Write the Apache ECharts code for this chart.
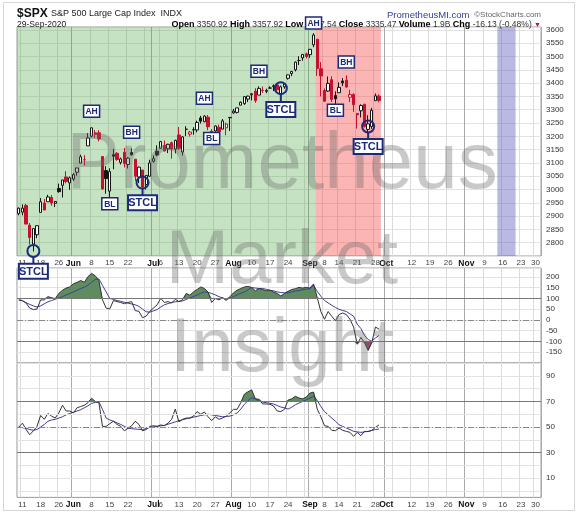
<!DOCTYPE html>
<html>
<head>
<meta charset="utf-8">
<title>$SPX</title>
<script src="https://cdn.jsdelivr.net/npm/echarts@6/dist/echarts.min.js"></script>
<style>
  html, body { margin: 0; padding: 0; background: #fff; }
  #chart { width: 578px; height: 515px; }
</style>
</head>
<body>
<div id="chart"></div>
<script>
;(function () {

    'use strict';

    // trading days, then the empty future part of the axis
    var dates = [
        '05-08','05-11','05-12','05-13','05-14','05-15','05-18','05-19','05-20','05-21','05-22','05-26','05-27','05-28','05-29',
        '06-01','06-02','06-03','06-04','06-05','06-08','06-09','06-10','06-11','06-12','06-15','06-16','06-17','06-18','06-19',
        '06-22','06-23','06-24','06-25','06-26','06-29','06-30',
        '07-01','07-02','07-06','07-07','07-08','07-09','07-10','07-13','07-14','07-15','07-16','07-17','07-20','07-21','07-22',
        '07-23','07-24','07-27','07-28','07-29','07-30','07-31',
        '08-03','08-04','08-05','08-06','08-07','08-10','08-11','08-12','08-13','08-14','08-17','08-18','08-19','08-20','08-21',
        '08-24','08-25','08-26','08-27','08-28','08-31',
        '09-01','09-02','09-03','09-04','09-08','09-09','09-10','09-11','09-14','09-15','09-16','09-17','09-18','09-21','09-22',
        '09-23','09-24','09-25','09-28','09-29',
        '09-30','10-01','10-02','10-05','10-06','10-07','10-08','10-09','10-12','10-13','10-14','10-15','10-16','10-19','10-20',
        '10-21','10-22','10-23','10-26','10-27','10-28','10-29','10-30',
        '11-02','11-03','11-04','11-05','11-06','11-09','11-10','11-11','11-12','11-13','11-16','11-17','11-18','11-19','11-20',
        '11-23','11-24','11-25','11-27','11-30','12-01'
    ];

    // [open, close, low, high]
    var ohlc = [
        [2909,2930,2903,2932],[2915,2930,2903,2944],[2940,2870,2870,2946],[2866,2820,2793,2874],[2795,2853,2767,2853],
        [2830,2864,2817,2865],[2914,2954,2914,2968],[2949,2923,2922,2964],[2954,2972,2954,2980],[2970,2949,2939,2979],
        [2948,2955,2934,2957],[3004,2992,2988,3022],[3016,3036,2970,3036],[3047,3030,3023,3069],[3025,3044,2999,3049],
        [3039,3056,3032,3062],[3065,3081,3052,3081],[3099,3123,3099,3131],[3112,3112,3090,3129],[3164,3194,3164,3212],
        [3200,3232,3196,3233],[3213,3207,3193,3223],[3213,3190,3181,3223],[3124,3002,2999,3124],[3071,3041,2984,3088],
        [2994,3067,2966,3080],[3131,3125,3076,3153],[3136,3113,3108,3141],[3102,3115,3094,3120],[3140,3098,3083,3156],
        [3094,3118,3079,3121],[3139,3131,3127,3155],[3114,3050,3032,3115],[3047,3084,3024,3086],[3073,3009,3005,3074],
        [3019,3053,3000,3054],[3050,3100,3048,3112],[3106,3116,3101,3128],[3144,3130,3125,3166],[3155,3180,3155,3183],
        [3166,3145,3143,3184],[3153,3170,3137,3172],[3176,3152,3116,3180],[3152,3185,3136,3187],[3205,3155,3149,3235],
        [3141,3198,3128,3201],[3226,3227,3201,3238],[3208,3216,3199,3220],[3224,3225,3206,3234],[3224,3252,3215,3259],
        [3269,3257,3248,3277],[3255,3276,3253,3279],[3272,3236,3223,3280],[3219,3216,3200,3227],[3220,3239,3214,3241],
        [3234,3218,3216,3244],[3227,3258,3227,3265],[3232,3246,3204,3251],[3270,3271,3220,3272],[3288,3295,3285,3303],
        [3290,3307,3286,3307],[3317,3328,3317,3331],[3323,3349,3318,3351],[3340,3351,3329,3353],[3356,3360,3335,3363],
        [3370,3334,3326,3381],[3355,3380,3355,3388],[3373,3373,3363,3387],[3369,3373,3362,3379],[3381,3382,3379,3388],
        [3387,3390,3370,3395],[3393,3375,3370,3400],[3360,3386,3355,3391],[3386,3397,3379,3400],[3418,3431,3413,3432],
        [3436,3444,3426,3444],[3450,3479,3444,3481],[3485,3485,3468,3501],[3495,3508,3484,3509],[3510,3500,3493,3515],
        [3507,3527,3495,3528],[3544,3581,3535,3588],[3565,3455,3427,3565],[3454,3427,3350,3479],[3372,3332,3329,3380],
        [3370,3399,3367,3425],[3413,3339,3329,3426],[3353,3341,3310,3369],[3364,3384,3364,3403],[3408,3401,3389,3419],
        [3411,3385,3384,3429],[3347,3357,3329,3375],[3357,3319,3292,3362],[3286,3281,3229,3286],[3296,3316,3271,3320],
        [3320,3237,3233,3323],[3226,3247,3209,3279],[3237,3298,3228,3307],[3334,3352,3333,3361],[3351,3335,3328,3358]
    ];

    var cci = [
        93,90,78,55,48,51,93,93,108,103,99,123,138,148,153,168,174,183,175,201,
        216,205,183,93,55,51,90,85,81,75,81,85,43,40,10,18,40,55,70,100,
        81,85,78,96,85,93,123,115,130,141,153,146,130,81,100,93,103,90,108,126,
        138,146,153,156,150,135,146,141,135,138,130,123,111,123,133,141,145,151,148,151,
        148,167,104,39,3,39,17,-4,25,32,25,3,-33,-113,-81,-106,-142,-106,-33,-43
    ];
    var cciSignal = [
        93,88,80,72,65,60,65,75,84,90,96,102,108,116,123,130,138,146,152,162,
        175,188,190,160,130,100,95,90,86,82,78,74,70,63,50,38,36,42,48,60,
        70,76,81,84,86,88,95,102,108,116,124,130,128,123,116,108,102,96,100,108,
        116,124,130,140,150,148,146,146,142,138,135,130,127,126,126,130,134,136,140,143,
        145,160,133,110,90,79,68,58,49,44,39,28,17,-20,-40,-72,-91,-99,-84,-72
    ];
    var rsi = [
        50,53,48,44,47,50.5,59,56,60.6,58.5,57,61,67,62.5,62.5,61,65,66,67,69,
        72.5,70,69,50.5,50.5,52.6,54.5,52,50.5,47,49,51,54.5,52,47,48,50.5,51,50.5,51.6,
        51,53,56,64,54,56,57,57,58.5,62,60,61.7,58,55,58,56,57,58.5,61,63.8,
        63.8,69,75.7,77.6,79,72,71.7,68,68,67.8,66.4,62.5,62,63.8,71,72,74,72.6,72,73.4,
        76.5,77.3,64,58,51,50.5,47.4,47.1,49.2,47.4,46.6,45.8,42.7,45.8,43.2,46.6,46.4,47.4,49.7,51.6
    ];
    var rsiSignal = [
        50,49.5,49,48,47.5,48,50,52,54.5,55.5,56,57,58,59.5,60.6,61.5,62.5,63.5,65,66.5,
        68.5,69.2,69.6,63.8,57,55.5,54.5,53.2,52,50.5,49,48.7,48.4,48.2,48,48.8,49.7,50.1,50.5,50.9,
        51.3,52.2,53,54,55,55.7,56.4,57,57.7,58.3,59,59.5,60,59.5,59,58.5,58,58.2,58.5,59.5,
        61,64,67.8,70.5,73,72,70,69.5,69,68.5,68,66.8,65.6,65,64,65.5,67.4,68.7,70,71.3,
        72.6,74,70.8,66,62,59.5,57,54.5,51.8,50.5,49.2,48,46.6,46.2,45.8,46.2,46.6,47.3,48,48.4
    ];

    var tickLabels = [
        ['05-11','11'],['05-18','18'],['05-26','26'],['06-01','Jun'],['06-08','8'],['06-15','15'],['06-22','22'],
        ['07-01','Jul'],['07-06','6'],['07-13','13'],['07-20','20'],['07-27','27'],['08-03','Aug'],['08-10','10'],
        ['08-17','17'],['08-24','24'],['09-01','Sep'],['09-08','8'],['09-14','14'],['09-21','21'],['09-28','28'],
        ['10-01','Oct'],['10-12','12'],['10-19','19'],['10-26','26'],['11-02','Nov'],['11-09','9'],['11-16','16'],
        ['11-23','23'],['11-30','30']
    ];
    var weekStarts = ['05-11','05-18','05-26','06-01','06-08','06-15','06-22','06-29','07-06','07-13','07-20','07-27',
        '08-03','08-10','08-17','08-24','08-31','09-08','09-14','09-21','09-28','10-05','10-12','10-19','10-26',
        '11-02','11-09','11-16','11-23','11-30'];
    var monthStarts = ['06-01','07-01','08-03','09-01','10-01','11-02'];
    var monthNames = ['Jun','Jul','Aug','Sep','Oct','Nov'];

    var zones = [
        { from: '05-08', to: '09-02', color: 'rgba(80,170,70,0.33)' },
        { from: '09-03', to: '09-29', color: 'rgba(245,60,60,0.38)' },
        { from: '11-13', to: '11-19', color: 'rgba(80,80,180,0.40)' }
    ];

    // ring = circle price, box = label price
    var notes = [
        { text: 'STCL', date: '05-14', ring: 2769, box: 2693 },
        { text: 'AH', date: '06-08', box: 3294 },
        { text: 'BL', date: '06-15', box: 2946 },
        { text: 'BH', date: '06-23', box: 3215 },
        { text: 'STCL', date: '06-26', ring: 3026, box: 2950 },
        { text: 'AH', date: '07-22', box: 3343 },
        { text: 'BL', date: '07-24', box: 3192 },
        { text: 'BH', date: '08-12', box: 3445 },
        { text: 'STCL', date: '08-20', ring: 3381, box: 3301 },
        { text: 'AH', date: '09-02', box: 3626 },
        { text: 'BH', date: '09-16', box: 3479 },
        { text: 'BL', date: '09-11', box: 3298 },
        { text: 'STCL', date: '09-24', ring: 3237, box: 3162 }
    ];

    var cciLabels = [-150, -100, -50, 0, 50, 100, 150, 200];
    var rsiLabels = [10, 30, 50, 70, 90];
    var rsiGridLevels = [0, 10, 20, 30, 40, 50, 60, 70, 80, 90, 100];

    var quote = { open: '3350.92', high: '3357.92', low: '3327.54', close: '3335.47', volume: '1.9B', chg: '-16.13 (-0.48%)' };

    var FONT = '"Liberation Sans", Arial, sans-serif';
    var NAVY = '#1b2a7b';

    var labelMap = {};
    tickLabels.forEach(function (t) { labelMap[t[0]] = t[1]; });

    var xAxes = function (grid, showLabels) {
        return [{
            type: 'category', gridIndex: grid, data: dates, boundaryGap: true,
            axisLine: { show: false }, axisTick: { show: false },
            axisLabel: {
                show: showLabels, margin: 3, fontSize: 8, color: '#444', fontFamily: FONT,
                interval: function (i, v) { return labelMap[v] != null; },
                formatter: function (v) {
                    var t = labelMap[v];
                    return monthNames.indexOf(t) >= 0 ? '{m|' + t + '}' : t;
                },
                rich: { m: { fontWeight: 'bold', fontSize: 8.5, color: '#111', fontFamily: FONT } }
            },
            splitLine: {
                show: true,
                interval: function (i, v) { return weekStarts.indexOf(v) >= 0; },
                lineStyle: { color: '#dcdcdc', width: 1 }
            }
        }, {
            type: 'category', gridIndex: grid, data: dates, boundaryGap: true,
            axisLine: { show: false }, axisTick: { show: false }, axisLabel: { show: false },
            splitLine: {
                show: true,
                interval: function (i, v) { return monthStarts.indexOf(v) >= 0; },
                lineStyle: { color: '#a9a9a9', width: 1 }
            }
        }];
    };

    var candleItems = ohlc.map(function (d, k) {
        var prev = k > 0 ? ohlc[k - 1][1] : d[0];
        var col = d[1] >= prev ? '#151515' : '#c8102e';
        var fill = d[1] >= d[0] ? '#ffffff' : col;
        return {
            value: d,
            itemStyle: { color: fill, color0: fill, borderColor: col, borderColor0: col, borderWidth: 1 }
        };
    });

    var refLine = function (v, color, type) {
        return { yAxis: v, lineStyle: { color: color, type: type, width: 1 } };
    };

    var labelFilter = function (list) {
        return function (v) { return list.indexOf(v) >= 0 ? String(v) : ''; };
    };

    var yLabel = { fontSize: 8, color: '#333', margin: 5, fontFamily: FONT };

    var option = {
        animation: false,
        backgroundColor: '#ffffff',
        grid: [
            { left: 17, right: 37, top: 27, height: 229, show: true, borderColor: '#9a9a9a', borderWidth: 1 },
            { left: 17, right: 37, top: 268, height: 95, show: true, borderColor: '#9a9a9a', borderWidth: 1 },
            { left: 17, right: 37, top: 363, height: 134.4, show: true, borderColor: '#9a9a9a', borderWidth: 1 }
        ],
        xAxis: xAxes(0, true).concat(xAxes(1, false), xAxes(2, true)),
        yAxis: [
            {
                gridIndex: 0, type: 'value', position: 'right', min: 2750, max: 3611, interval: 50,
                axisLine: { show: false }, axisTick: { show: false },
                splitLine: { lineStyle: { color: '#e2e2e2' } },
                axisLabel: Object.assign({}, yLabel, {
                    formatter: function (v) { return v >= 2800 && v <= 3600 && v % 50 === 0 ? String(v) : ''; }
                })
            },
            {
                gridIndex: 1, type: 'value', position: 'right', min: -200, max: 241, interval: 50,
                axisLine: { show: false }, axisTick: { show: false },
                splitLine: { lineStyle: { color: '#e2e2e2' } },
                axisLabel: Object.assign({}, yLabel, { formatter: labelFilter(cciLabels) })
            },
            {
                gridIndex: 2, type: 'value', position: 'right', min: -5, max: 100, interval: 5,
                axisLine: { show: false }, axisTick: { show: false },
                splitLine: { show: false },
                axisLabel: Object.assign({}, yLabel, { formatter: labelFilter(rsiLabels) })
            }
        ],
        series: [
            {
                type: 'custom', xAxisIndex: 0, yAxisIndex: 0, z: 0, silent: true,
                encode: { x: [0, 1] },
                data: zones.map(function (z) { return [dates.indexOf(z.from), dates.indexOf(z.to)]; }),
                renderItem: function (params, api) {
                    var bw = api.size([1, 0])[0];
                    var a = api.coord([api.value(0), 3000]);
                    var b = api.coord([api.value(1), 3000]);
                    var cs = params.coordSys;
                    return {
                        type: 'rect',
                        shape: { x: a[0] - bw / 2, y: cs.y, width: b[0] - a[0] + bw, height: cs.height },
                        style: { fill: zones[params.dataIndex].color }
                    };
                }
            },
            {
                type: 'candlestick', xAxisIndex: 0, yAxisIndex: 0, z: 3, silent: true,
                barWidth: '78%', data: candleItems
            },
            {
                type: 'line', xAxisIndex: 2, yAxisIndex: 1, z: 2, silent: true, showSymbol: false,
                data: cci.map(function (v) { return v > 100 ? v : 100; }),
                lineStyle: { opacity: 0 }, areaStyle: { origin: 100, color: '#5f8c5f', opacity: 1 }
            },
            {
                type: 'line', xAxisIndex: 2, yAxisIndex: 1, z: 2, silent: true, showSymbol: false,
                data: cci.map(function (v) { return v < -100 ? v : -100; }),
                lineStyle: { opacity: 0 }, areaStyle: { origin: -100, color: '#8d4f5f', opacity: 1 }
            },
            {
                type: 'line', xAxisIndex: 2, yAxisIndex: 1, z: 3, silent: true, showSymbol: false,
                data: cciSignal, lineStyle: { color: '#3d3d9c', width: 1 }
            },
            {
                type: 'line', xAxisIndex: 2, yAxisIndex: 1, z: 4, silent: true, showSymbol: false,
                data: cci, lineStyle: { color: '#333333', width: 1 },
                markLine: {
                    silent: true, symbol: 'none', label: { show: false },
                    data: [refLine(100, '#777', 'solid'), refLine(-100, '#777', 'solid'), refLine(0, '#888', [6, 2, 1, 2])]
                }
            },
            {
                type: 'line', xAxisIndex: 4, yAxisIndex: 2, z: 1, silent: true, showSymbol: false,
                data: [], markLine: {
                    silent: true, symbol: 'none', label: { show: false },
                    data: rsiGridLevels.map(function (v) { return refLine(v, '#e2e2e2', 'solid'); })
                }
            },
            {
                type: 'line', xAxisIndex: 4, yAxisIndex: 2, z: 2, silent: true, showSymbol: false,
                data: rsi.map(function (v) { return v > 70 ? v : 70; }),
                lineStyle: { opacity: 0 }, areaStyle: { origin: 70, color: '#5f8c5f', opacity: 1 }
            },
            {
                type: 'line', xAxisIndex: 4, yAxisIndex: 2, z: 3, silent: true, showSymbol: false,
                data: rsiSignal, lineStyle: { color: '#3d3d9c', width: 1 }
            },
            {
                type: 'line', xAxisIndex: 4, yAxisIndex: 2, z: 4, silent: true, showSymbol: false,
                data: rsi, lineStyle: { color: '#333333', width: 1 },
                markLine: {
                    silent: true, symbol: 'none', label: { show: false },
                    data: [refLine(70, '#777', 'solid'), refLine(30, '#777', 'solid'), refLine(50, '#888', [6, 2, 1, 2])]
                }
            }
        ]
    };

    var staticGraphics = function () {
        var mark = function (text, y, size) {
            return {
                type: 'text', z: 5, silent: true, x: 282, y: y,
                style: { text: text, fontSize: size, fontFamily: FONT, fill: 'rgba(105,105,105,0.36)', align: 'center', verticalAlign: 'middle' }
            };
        };
        return [
            { type: 'rect', z: 0, silent: true, shape: { x: 3.5, y: 2.5, width: 571, height: 508 },
              style: { fill: 'none', stroke: '#d6d6d6', lineWidth: 1 } },
            { type: 'text', z: 10, x: 17, y: 14, style: {
                text: '{t|$SPX} {s|S&P 500 Large Cap Index  INDX}', verticalAlign: 'middle',
                rich: {
                    t: { fontSize: 12, fontWeight: 'bold', fill: '#111', fontFamily: FONT },
                    s: { fontSize: 9, fill: '#222', fontFamily: FONT }
                } } },
            { type: 'text', z: 10, x: 17, y: 25, style: { text: '29-Sep-2020', fontSize: 8.5, fill: '#222', fontFamily: FONT, verticalAlign: 'middle' } },
            { type: 'text', z: 10, x: 387, y: 15, style: { text: 'PrometheusMI.com', fontSize: 9.5, fill: '#2f3da0', fontFamily: FONT, verticalAlign: 'middle' } },
            { type: 'text', z: 10, x: 541, y: 15, style: { text: '\u00a9StockCharts.com', fontSize: 8, fill: '#666', fontFamily: FONT, align: 'right', verticalAlign: 'middle' } },
            { type: 'text', z: 10, x: 541, y: 25, style: {
                text: '{b|Open} ' + quote.open + ' {b|High} ' + quote.high + ' {b|Low} ' + quote.low +
                      ' {b|Close} ' + quote.close + ' {b|Volume} ' + quote.volume + ' {b|Chg} ' + quote.chg + ' {r|\u25BC}',
                fontSize: 8.5, fill: '#333', fontFamily: FONT, align: 'right', verticalAlign: 'middle',
                rich: {
                    b: { fontSize: 9, fontWeight: 'bold', fill: '#000', fontFamily: FONT },
                    r: { fontSize: 7, fill: '#c0102e', fontFamily: FONT }
                } } },
            mark('Prometheus', 166, 80),
            mark('Market', 262, 76),
            mark('Insight', 350, 76)
        ];
    };

    var noteGraphics = function (chart) {
        var els = [];
        notes.forEach(function (n) {
            var big = n.text === 'STCL';
            var w = big ? 29 : 16, h = big ? 15 : 12;
            var p = chart.convertToPixel({ xAxisIndex: 0, yAxisIndex: 0 }, [n.date, n.box]);
            if (n.ring != null) {
                var c = chart.convertToPixel({ xAxisIndex: 0, yAxisIndex: 0 }, [n.date, n.ring]);
                els.push({ type: 'line', z: 20, silent: true,
                    shape: { x1: c[0], y1: c[1] + 6, x2: c[0], y2: p[1] - h / 2 },
                    style: { stroke: NAVY, lineWidth: 2 } });
                els.push({ type: 'circle', z: 20, silent: true, shape: { cx: c[0], cy: c[1], r: 6 },
                    style: { fill: 'none', stroke: NAVY, lineWidth: 2 } });
                p[0] = c[0];
            }
            els.push({ type: 'rect', z: 20, silent: true,
                shape: { x: p[0] - w / 2, y: p[1] - h / 2, width: w, height: h },
                style: { fill: '#fff', stroke: NAVY, lineWidth: big ? 2 : 1.5 } });
            els.push({ type: 'text', z: 21, silent: true, x: p[0], y: p[1] + 0.5,
                style: { text: n.text, fontSize: big ? 11 : 8.5, fontWeight: 'bold', fill: NAVY,
                         fontFamily: FONT, align: 'center', verticalAlign: 'middle' } });
        });
        return els;
    };

    var chart = echarts.init(document.getElementById('chart'), null, { renderer: 'canvas' });
    chart.setOption(option);
    chart.setOption({ graphic: { elements: staticGraphics().concat(noteGraphics(chart)) } });

}());
</script>
</body>
</html>
